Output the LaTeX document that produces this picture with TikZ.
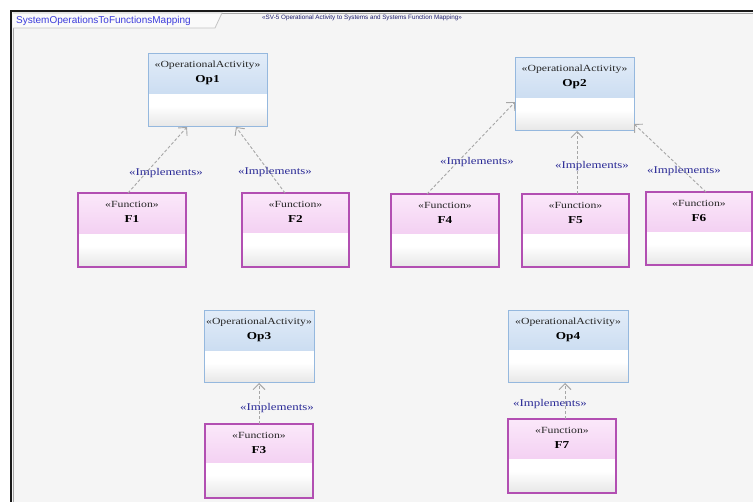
\documentclass[tikz,border=0pt]{standalone}
\usepackage{fontspec}
\usetikzlibrary{arrows.meta}
\newfontfamily\umlfont{Liberation Serif}[FakeStretch=1.25]
\newfontfamily\tabfont{Liberation Sans}

\definecolor{opTop}{HTML}{E2ECF8}
\definecolor{opBot}{HTML}{B9D1EC}
\definecolor{opLine}{HTML}{95B8DE}
\definecolor{fnTop}{HTML}{FBE8FA}
\definecolor{fnBot}{HTML}{EDBDEC}
\definecolor{fnLine}{HTML}{B24FB2}
\definecolor{lowBot}{HTML}{E6E6E6}
\definecolor{canvas}{HTML}{F5F5F5}
\definecolor{implText}{HTML}{2A2A96}
\definecolor{linkGrey}{HTML}{A6A6A6}
\definecolor{tabBlue}{HTML}{3C3CDC}
\definecolor{titleBlue}{HTML}{1E1E6E}
\definecolor{tabLine}{HTML}{C4C4C4}

\tikzset{
  classbox/.style={rectangle, inner sep=0pt, outer sep=0pt},
  opstyle/.style={line width=1pt},
  fnstyle/.style={line width=1.1pt},
  stereo/.style={inner sep=0pt, font=\umlfont\fontsize{9.4}{10}\selectfont, text=black!85},
  classname/.style={inner sep=0pt, font=\umlfont\bfseries\fontsize{10.6}{12}\selectfont, text=black},
  impl/.style={inner sep=0pt, font=\umlfont\fontsize{10.3}{12}\selectfont, text=implText},
  implements/.style={draw=linkGrey, line width=0.9pt, dash pattern=on 3pt off 2pt,
    -{Straight Barb[length=6pt,width=12pt,line width=0.9pt]}},
}

% #1 name, #2-#5 corners, #6 header height, #7 colour prefix, #8 stereotype, #9 title
\newcommand\umlclass[9]{%
  \node[classbox, #7style, draw=#7Line,
    minimum width={(#4-#2)*1pt}, minimum height={(#5-#3)*1pt},
    path picture={
      \shade[top color=#7Top, bottom color=#7Bot]
        (path picture bounding box.north west) rectangle
        ([yshift=-#6pt]path picture bounding box.north east);
      \fill[white]
        ([yshift=-#6pt]path picture bounding box.north west) rectangle
        (path picture bounding box.south east);
      \shade[top color=white, bottom color=lowBot]
        ([yshift=-#6pt-12pt]path picture bounding box.north west) rectangle
        (path picture bounding box.south east);
    }] (#1) at ({(#2+#4)/2},{(#3+#5)/2}) {};
  \node[stereo] (#1-s) at ([yshift=-11pt]#1.north) {«#8»};
  \node[classname] (#1-t) at ([yshift=-26pt]#1.north) {#9};
}

\begin{document}
\begin{tikzpicture}[x=1pt, y=-1pt]
  \useasboundingbox (0,0) rectangle (753,502);
  \fill[white] (0,0) rectangle (753,502);

  % diagram frame
  \fill[canvas] (11,11) rectangle (753,502);
  \draw[black!35, line width=1pt] (13.5,502) -- (13.5,13.5) -- (753,13.5);
  \draw[black!90, line width=2.2pt] (11,502) -- (11,11) -- (753,11);

  % name tab
  \draw[tabLine, fill=white!55!canvas, line width=0.8pt]
    (13,13) -- (222,13) -- (215,28) -- (13,28);
  \node[anchor=west, inner sep=0pt, text=tabBlue,
    font=\tabfont\fontsize{10}{12}\selectfont] (tabtitle) at (16,20.5)
    {SystemOperationsToFunctionsMapping};
  \node[anchor=west, inner sep=0pt, text=titleBlue,
    font=\tabfont\fontsize{6.3}{7}\selectfont] (diagtitle) at (262,17.5)
    {«SV-5 Operational Activity to Systems and Systems Function Mapping»};

  % operational activities
  \umlclass{op1}{148}{54}{267}{127}{40}{op}{OperationalActivity}{Op1}
  \umlclass{op2}{515}{58}{634}{131}{40}{op}{OperationalActivity}{Op2}
  \umlclass{op3}{204}{311}{314}{383}{40}{op}{OperationalActivity}{Op3}
  \umlclass{op4}{508}{311}{628}{383}{39}{op}{OperationalActivity}{Op4}

  % functions
  \umlclass{f1}{78}{193}{186}{267}{41}{fn}{Function}{F1}
  \umlclass{f2}{242}{193}{349}{267}{40}{fn}{Function}{F2}
  \umlclass{f4}{391}{194}{499}{267}{40}{fn}{Function}{F4}
  \umlclass{f5}{522}{194}{629}{267}{40}{fn}{Function}{F5}
  \umlclass{f6}{646}{192}{752}{265}{40}{fn}{Function}{F6}
  \umlclass{f3}{205}{424}{313}{498}{39}{fn}{Function}{F3}
  \umlclass{f7}{508}{419}{616}{493}{40}{fn}{Function}{F7}

  % implements relations
  \draw[implements] ([xshift=-4pt]f1.north) -- ([xshift=-20.5pt]op1.south);
  \draw[implements] ([xshift=-10.5pt]f2.north) -- ([xshift=28.5pt]op1.south);
  \draw[implements] ([xshift=-18pt]f4.north) -- ([yshift=-7.5pt]op2.west);
  \draw[implements] ([xshift=1.5pt]f5.north) -- ([xshift=2.5pt]op2.south);
  \draw[implements] ([xshift=7pt]f6.north) -- ([yshift=-29.5pt]op2.east);
  \draw[implements] (f3.north) -- (op3.south);
  \draw[implements] ([xshift=3pt]f7.north) -- ([xshift=-3pt]op4.south);

  \node[impl] (l1) at (166,173) {«Implements»};
  \node[impl] (l2) at (275,172) {«Implements»};
  \node[impl] (l4) at (477,162) {«Implements»};
  \node[impl] (l5) at (592,166) {«Implements»};
  \node[impl] (l6) at (684,171) {«Implements»};
  \node[impl] (l3) at (277,408) {«Implements»};
  \node[impl] (l7) at (550,404) {«Implements»};
\end{tikzpicture}
\end{document}
